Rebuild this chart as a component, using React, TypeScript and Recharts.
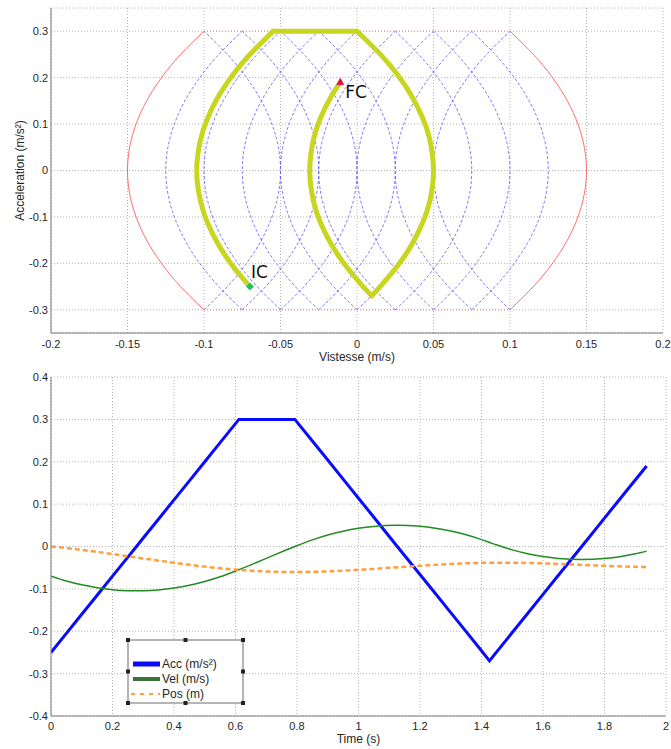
import { LineChart, Line, XAxis, YAxis, CartesianGrid, ReferenceDot } from "recharts";

const timeS = [0, 0.05, 0.1, 0.15, 0.2, 0.25, 0.278, 0.3, 0.35, 0.4, 0.45, 0.5, 0.55, 0.611, 0.7, 0.793, 0.85, 0.9, 0.95, 1.0, 1.05, 1.126, 1.2, 1.25, 1.3, 1.35, 1.4, 1.426, 1.45, 1.5, 1.55, 1.6, 1.65, 1.726, 1.8, 1.85, 1.9, 1.937];
const accVals = [-0.25, -0.205, -0.16, -0.115, -0.07, -0.025, 0, 0.02, 0.065, 0.11, 0.155, 0.2, 0.245, 0.3, 0.3, 0.3, 0.249, 0.204, 0.159, 0.114, 0.069, 0, -0.066, -0.111, -0.156, -0.201, -0.246, -0.27, -0.248, -0.203, -0.158, -0.113, -0.068, 0, 0.067, 0.112, 0.157, 0.19];
const velVals = [-0.07, -0.0814, -0.0905, -0.0974, -0.102, -0.1044, -0.1047, -0.1045, -0.1024, -0.098, -0.0914, -0.0825, -0.0714, -0.0548, -0.0281, 0, 0.0156, 0.027, 0.036, 0.0428, 0.0474, 0.05, 0.0476, 0.0431, 0.0364, 0.0275, 0.0163, 0.0096, 0.0034, -0.0079, -0.017, -0.0238, -0.0283, -0.0309, -0.0284, -0.024, -0.0173, -0.0109];
const posVals = [0, -0.0038, -0.0081, -0.0128, -0.0178, -0.023, -0.0259, -0.0282, -0.0334, -0.0384, -0.0431, -0.0475, -0.0513, -0.0552, -0.0589, -0.0602, -0.0597, -0.0587, -0.0571, -0.0551, -0.0528, -0.0491, -0.0455, -0.0432, -0.0412, -0.0396, -0.0385, -0.0382, -0.0381, -0.0382, -0.0388, -0.0398, -0.0411, -0.0434, -0.0456, -0.0469, -0.048, -0.0485];
// sample indices where the jerk switches (profile corners)
const cornerIdx = [0, 13, 15, 27, 37];

// phase-plane arc shape (acceleration vs. velocity offset from vertex)
const arcAcc = [-0.3, -0.25, -0.2, -0.15, -0.1, -0.05, 0, 0.05, 0.1, 0.15, 0.2, 0.25, 0.3];
const arcBulge = [0.05, 0.0347, 0.0222, 0.0125, 0.0056, 0.0014, 0, 0.0014, 0.0056, 0.0125, 0.0222, 0.0347, 0.05];
const blueOpenRight = [-0.125, -0.1, -0.075, -0.05, -0.025, 0, 0.025, 0.05];
const blueOpenLeft = [-0.05, -0.025, 0, 0.025, 0.05, 0.075, 0.1, 0.125];
const redOpenRight = -0.15;
const redOpenLeft = 0.15;
const redCapVel = [-0.1, 0.1];
const redCapAcc = [0.3, -0.3];

const phaseXTicks = [-0.2, -0.15, -0.1, -0.05, 0, 0.05, 0.1, 0.15, 0.2];
const phaseYTicks = [-0.3, -0.2, -0.1, 0, 0.1, 0.2, 0.3];
const timeTicks = [0, 0.2, 0.4, 0.6, 0.8, 1, 1.2, 1.4, 1.6, 1.8, 2];
const valueTicks = [-0.4, -0.3, -0.2, -0.1, 0, 0.1, 0.2, 0.3, 0.4];

const arc = (c: number, sign: number) => arcAcc.map((a, i) => ({ x: c + sign * arcBulge[i], y: a }));
const trajectory = timeS.map((_, i) => ({ x: velVals[i], y: accVals[i] }));
const trajPieces = cornerIdx.slice(1).map((end, k) => trajectory.slice(cornerIdx[k], end + 1));
const rows = timeS.map((t, i) => ({ t, acc: accVals[i], vel: velVals[i], pos: posVals[i] }));

const font = "Liberation Sans, Arial, sans-serif";
const tickStyle = { fontSize: 11, fill: "#262626", fontFamily: font };
const frame = "#7a7a7a";
const gridColor = "#b4b4b4";

const ICMark = (p: any) => (
  <g>
    <polygon points={`${p.cx},${p.cy - 3.5} ${p.cx + 3.5},${p.cy} ${p.cx},${p.cy + 3.5} ${p.cx - 3.5},${p.cy}`} fill="#21c83a" stroke="#19b8c8" strokeWidth={0.8} />
    <text x={p.cx + 1} y={p.cy - 9} fontSize={17} fontFamily="DejaVu Sans" fill="#111">IC</text>
  </g>
);

const FCMark = (p: any) => (
  <g>
    <polygon points={`${p.cx},${p.cy - 4} ${p.cx + 3.5},${p.cy + 2.5} ${p.cx - 3.5},${p.cy + 2.5}`} fill="#e0102a" stroke="#d0208a" strokeWidth={0.8} />
    <text x={p.cx + 5} y={p.cy + 16} fontSize={17} fontFamily="DejaVu Sans" fill="#111">FC</text>
  </g>
);

export default function App() {
  const last = trajectory.length - 1;
  return (
    <div style={{ position: "absolute", left: 0, top: 0, width: 671, height: 749, background: "#fff", fontFamily: font }}>
      <LineChart width={671} height={370} margin={{ top: 8, right: 8, left: 11, bottom: 7 }}>
        <CartesianGrid stroke={gridColor} strokeDasharray="1 2" />
        <XAxis dataKey="x" type="number" domain={[-0.2, 0.2]} ticks={phaseXTicks} allowDataOverflow
          tick={tickStyle} tickLine={false} tickSize={4} tickMargin={3} height={30}
          axisLine={{ stroke: frame }}
          label={{ value: "Vistesse (m/s)", position: "insideBottom", offset: 2, fontSize: 12, fill: "#262626", fontFamily: font }} />
        <XAxis xAxisId="top" orientation="top" mirror type="number" domain={[-0.2, 0.2]} ticks={phaseXTicks} allowDataOverflow
          tick={false} tickSize={4} tickLine={{ stroke: frame }} axisLine={{ stroke: frame }} height={0} />
        <XAxis xAxisId="bin" orientation="bottom" mirror type="number" domain={[-0.2, 0.2]} ticks={phaseXTicks} allowDataOverflow
          tick={false} tickSize={4} tickLine={{ stroke: frame }} axisLine={false} height={0} />
        <YAxis type="number" domain={[-0.35, 0.35]} ticks={phaseYTicks} allowDataOverflow
          tick={tickStyle} tickLine={false} tickSize={0} tickMargin={3} width={40}
          axisLine={{ stroke: frame }}
          label={{ value: "Acceleration (m/s²)", angle: -90, position: "insideLeft", offset: 9, fontSize: 12, fill: "#262626", fontFamily: font, style: { textAnchor: "middle" } }} />
        <YAxis yAxisId="right" orientation="right" mirror type="number" domain={[-0.35, 0.35]} ticks={phaseYTicks} allowDataOverflow
          tick={false} tickSize={4} tickLine={{ stroke: frame }} axisLine={{ stroke: frame }} width={0} />
        <YAxis yAxisId="lin" orientation="left" mirror type="number" domain={[-0.35, 0.35]} ticks={phaseYTicks} allowDataOverflow
          tick={false} tickSize={4} tickLine={{ stroke: frame }} axisLine={false} width={0} />

        {blueOpenRight.map((c) => (
          <Line key={`br${c}`} data={arc(c, 1)} dataKey="y" type="natural" stroke="#5a5aff" strokeWidth={0.8}
            strokeDasharray="3 2" dot={false} activeDot={false} isAnimationActive={false} />
        ))}
        {blueOpenLeft.map((c) => (
          <Line key={`bl${c}`} data={arc(c, -1)} dataKey="y" type="natural" stroke="#5a5aff" strokeWidth={0.8}
            strokeDasharray="3 2" dot={false} activeDot={false} isAnimationActive={false} />
        ))}
        <Line data={arc(redOpenRight, 1)} dataKey="y" type="natural" stroke="#ff4a4a" strokeWidth={0.8} dot={false} activeDot={false} isAnimationActive={false} />
        <Line data={arc(redOpenLeft, -1)} dataKey="y" type="natural" stroke="#ff4a4a" strokeWidth={0.8} dot={false} activeDot={false} isAnimationActive={false} />
        {redCapAcc.map((a) => (
          <Line key={`cap${a}`} data={redCapVel.map((v) => ({ x: v, y: a }))} dataKey="y" type="linear" stroke="#ff8080"
            strokeWidth={1} strokeDasharray="1 2" dot={false} activeDot={false} isAnimationActive={false} />
        ))}
        {trajPieces.map((piece, k) => (
          <Line key={`traj${k}`} data={piece} dataKey="y" type={piece.length > 2 ? "natural" : "linear"} stroke="#c9d61f"
            strokeWidth={5} strokeLinecap="round" strokeLinejoin="round"
            dot={false} activeDot={false} isAnimationActive={false} />
        ))}
        <ReferenceDot x={trajectory[0].x} y={trajectory[0].y} shape={ICMark} ifOverflow="visible" />
        <ReferenceDot x={trajectory[last].x} y={trajectory[last].y} shape={FCMark} ifOverflow="visible" />
      </LineChart>

      <div style={{ position: "absolute", left: 0, top: 370 }}>
        <LineChart width={671} height={379} data={rows} margin={{ top: 7, right: 5, left: 11, bottom: 3 }}>
          <CartesianGrid stroke={gridColor} strokeDasharray="1 2" />
          <XAxis dataKey="t" type="number" domain={[0, 2]} ticks={timeTicks} allowDataOverflow
            tick={tickStyle} tickLine={false} tickSize={3} tickMargin={3} height={30}
            axisLine={{ stroke: frame }}
            label={{ value: "Time (s)", position: "insideBottom", offset: 3, fontSize: 12, fill: "#262626", fontFamily: font }} />
          <XAxis xAxisId="top" orientation="top" mirror type="number" domain={[0, 2]} ticks={timeTicks} allowDataOverflow
            tick={false} tickSize={4} tickLine={{ stroke: frame }} axisLine={{ stroke: frame }} height={0} />
          <XAxis xAxisId="bin" orientation="bottom" mirror type="number" domain={[0, 2]} ticks={timeTicks} allowDataOverflow
            tick={false} tickSize={4} tickLine={{ stroke: frame }} axisLine={false} height={0} />
          <YAxis type="number" domain={[-0.4, 0.4]} ticks={valueTicks} allowDataOverflow
            tick={tickStyle} tickLine={false} tickSize={0} tickMargin={3} width={40} axisLine={{ stroke: frame }} />
          <YAxis yAxisId="right" orientation="right" mirror type="number" domain={[-0.4, 0.4]} ticks={valueTicks} allowDataOverflow
            tick={false} tickSize={4} tickLine={{ stroke: frame }} axisLine={{ stroke: frame }} width={0} />
          <YAxis yAxisId="lin" orientation="left" mirror type="number" domain={[-0.4, 0.4]} ticks={valueTicks} allowDataOverflow
            tick={false} tickSize={4} tickLine={{ stroke: frame }} axisLine={false} width={0} />
          <Line dataKey="acc" type="linear" stroke="#0a0aff" strokeWidth={3} dot={false} activeDot={false} isAnimationActive={false} />
          <Line dataKey="vel" type="monotone" stroke="#238b23" strokeWidth={1.5} dot={false} activeDot={false} isAnimationActive={false} />
          <Line dataKey="pos" type="monotone" stroke="#ffa040" strokeWidth={2.5} strokeDasharray="5 3" dot={false} activeDot={false} isAnimationActive={false} />
        </LineChart>
      </div>

      <svg width={124} height={70} style={{ position: "absolute", left: 124, top: 636 }}>
        <rect x={4} y={4} width={115} height={63} fill="#fff" stroke="#6a6a6a" strokeWidth={1} />
        {[[4, 4], [61.5, 4], [119, 4], [4, 35.5], [119, 35.5], [4, 67], [61.5, 67], [119, 67]].map(([x, y], i) => (
          <rect key={i} x={x - 2} y={y - 2} width={4} height={4} fill="#222" />
        ))}
        <line x1={9} x2={36} y1={28} y2={28} stroke="#0a0aff" strokeWidth={5} />
        <line x1={9} x2={36} y1={43} y2={43} stroke="#3a743a" strokeWidth={4} />
        <line x1={7} x2={36} y1={58} y2={58} stroke="#ffa040" strokeWidth={2} strokeDasharray="4 5" />
        <text x={38} y={32} fontSize={12} fontFamily={font} fill="#262626">Acc (m/s²)</text>
        <text x={38} y={47} fontSize={12} fontFamily={font} fill="#262626">Vel (m/s)</text>
        <text x={38} y={62} fontSize={12} fontFamily={font} fill="#262626">Pos (m)</text>
      </svg>
    </div>
  );
}
